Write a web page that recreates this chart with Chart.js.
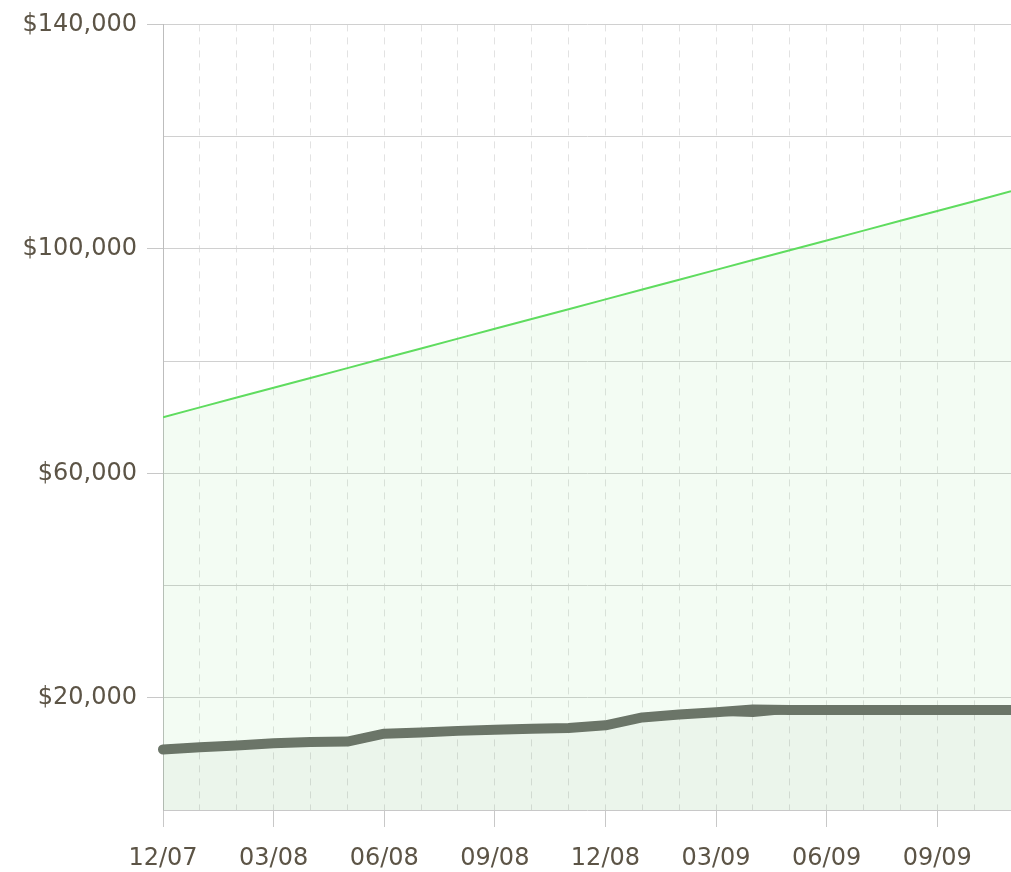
<!DOCTYPE html>
<html><head><meta charset="utf-8">
<script src="https://cdn.jsdelivr.net/npm/chart.js@4/dist/chart.umd.min.js"></script>
<style>html,body{margin:0;padding:0;background:#fff}#wrap{width:1011px;height:872px}</style>
</head><body><div id="wrap"><canvas id="c" width="1011" height="872"></canvas></div>
<script>
const months = ['12/07','01/08','02/08','03/08','04/08','05/08','06/08','07/08','08/08','09/08','10/08','11/08',
                '12/08','01/09','02/09','03/09','04/09','05/09','06/09','07/09','08/09','09/09','10/09','11/09'];
const targetValues = [70000,71750,73500,75250,77000,78750,80500,82250,84000,85750,87500,89250,
                      91000,92750,94500,96250,98000,99750,101500,103250,105000,106750,108500,110250];
const actualValues = [10800,11200,11500,11900,12100,12200,13600,13800,14100,14300,14500,14600,
                      15100,16500,17000,17400,17900,17800,17800,17800,17800,17800,17800,17800];
const contribValues = [10800,11200,11500,11900,12100,12200,13600,13800,14100,14300,14500,14600,
                       15100,16500,17000,17400,17200,17800,17800,17800,17800,17800,17800,17800];
const yLabelValues = [20000,60000,100000,140000];

const toPts = arr => arr.map((v,i)=>({x:i,y:v}));
const fmt = v => '$' + v.toLocaleString('en-US');

new Chart(document.getElementById('c'), {
  type: 'line',
  data: {
    datasets: [
      { data: toPts(contribValues), borderColor: '#6b7568', borderWidth: 7, borderCapStyle: 'round', borderJoinStyle: 'round',
        pointRadius: 0, fill: false, tension: 0, clip: 6 },
      { data: toPts(actualValues), borderColor: '#6b7568', borderWidth: 10, borderCapStyle: 'round', borderJoinStyle: 'round',
        pointRadius: 0, fill: 'origin', backgroundColor: 'rgba(107,117,104,0.06)', tension: 0, clip: 6 },
      { data: toPts(targetValues), borderColor: '#5fdc5f', borderWidth: 2, pointRadius: 0,
        fill: 'origin', backgroundColor: 'rgba(100,220,100,0.08)', tension: 0 }
    ]
  },
  options: {
    responsive: false, animation: false,
    layout: { padding: { top: 23, right: 0, left: 0, bottom: 0 } },
    plugins: { legend: { display: false }, tooltip: { enabled: false } },
    scales: {
      x: {
        type: 'linear', min: 0, max: months.length - 1,
        afterFit: s => { s.height = 62; s.paddingRight = 0; s.paddingLeft = 0; },
        ticks: { stepSize: 1, autoSkip: false, maxRotation: 0, padding: 17, color: '#5c5446',
          font: { family: 'DejaVu Sans', size: 24 },
          callback: v => (v % 3 === 0 ? months[v] : '') },
        grid: { color: '#e2e2e2', lineWidth: 1, tickLength: 17,
          tickColor: ctx => (ctx.tick && ctx.tick.value % 3 === 0 ? '#c8c8c8' : 'rgba(0,0,0,0)'),
          tickBorderDash: [] },
        border: { display: true, color: '#c8c8c8', width: 1, dash: [7, 6] }
      },
      y: {
        min: 0, max: 140000,
        afterFit: s => { s.width = 163; },
        ticks: { stepSize: 20000, padding: 10, color: '#5c5446',
          font: { family: 'DejaVu Sans', size: 24 },
          callback: v => (yLabelValues.includes(v) ? fmt(v) : '') },
        grid: { color: ctx => (ctx.tick && ctx.tick.value === 0 ? 'rgba(0,0,0,0)' : '#d0d0d0'), lineWidth: 1, tickLength: 16,
          tickColor: ctx => (ctx.tick && yLabelValues.includes(ctx.tick.value) ? '#c8c8c8' : 'rgba(0,0,0,0)') },
        border: { display: true, color: '#bdbdbd', width: 1 }
      }
    }
  }
});
</script></body></html>
